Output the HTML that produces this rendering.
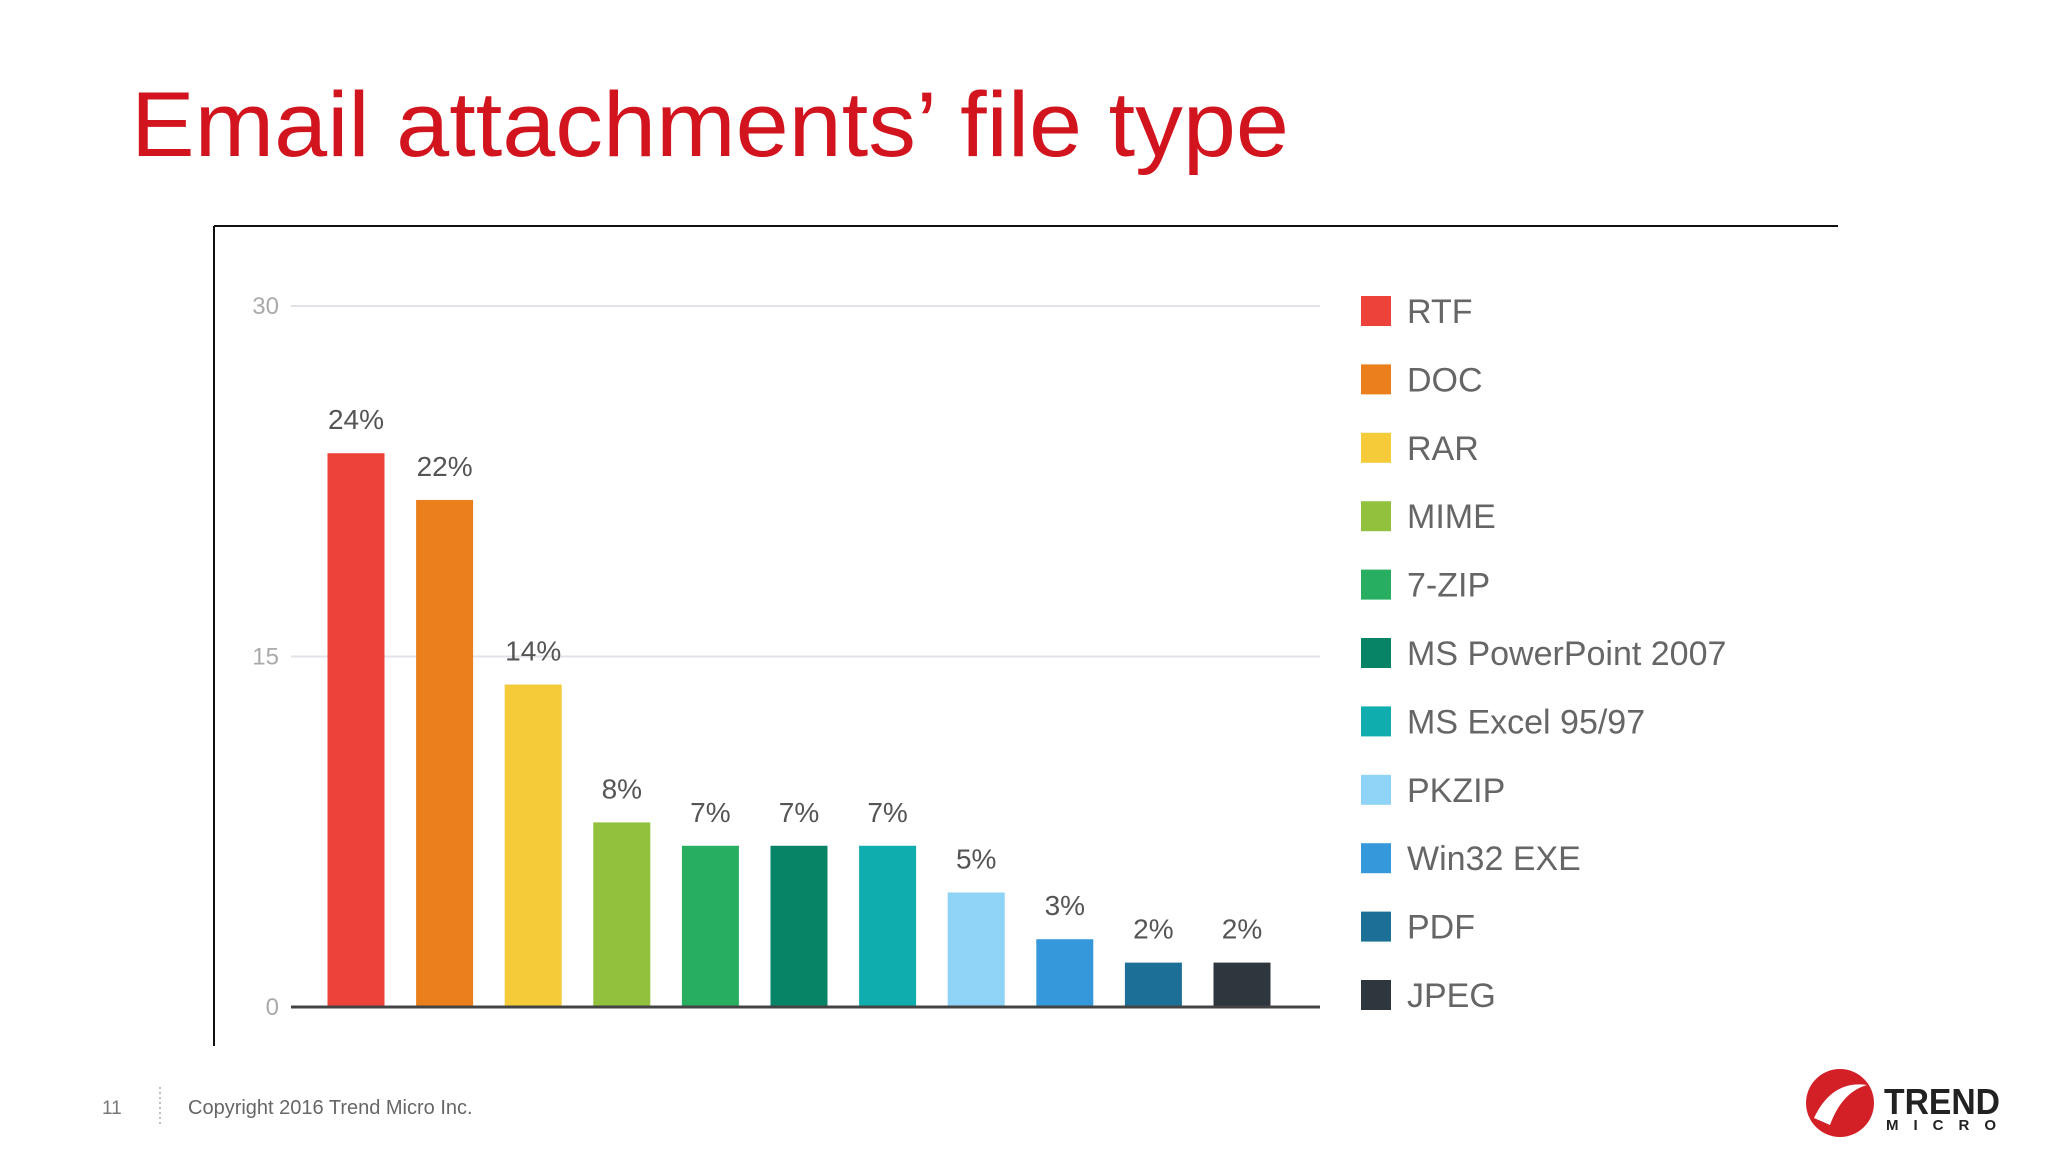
<!DOCTYPE html>
<html><head><meta charset="utf-8"><style>
html,body{margin:0;padding:0;background:#fff;}
svg{display:block;font-family:"Liberation Sans",sans-serif;}
</style></head><body>
<svg width="2048" height="1152" viewBox="0 0 2048 1152">
<text x="131" y="156" font-size="92" fill="#d2141e" textLength="1158" lengthAdjust="spacingAndGlyphs">Email attachments’ file type</text>
<line x1="214" y1="226" x2="1838" y2="226" stroke="#111" stroke-width="2"/>
<line x1="214" y1="226" x2="214" y2="1046" stroke="#111" stroke-width="2"/>
<g id="chart"></g>
<text x="102" y="1114" font-size="19" fill="#777">11</text>
<line x1="160" y1="1087" x2="160" y2="1127" stroke="#aaa" stroke-width="1.5" stroke-dasharray="2,3"/>
<text x="188" y="1114" font-size="20" fill="#666">Copyright 2016 Trend Micro Inc.</text>
<g transform="translate(-8,0)">
<circle cx="1848" cy="1103" r="34" fill="#d32027"/>
<path d="M1822 1118 Q1840 1080 1875 1085 Q1850 1092 1838 1125 Z" fill="#fff"/>
<text x="1892" y="1114" font-size="36" font-weight="bold" fill="#222" textLength="116" lengthAdjust="spacingAndGlyphs">TREND</text>
<text x="1894" y="1130" font-size="15" font-weight="bold" fill="#222" textLength="110" lengthAdjust="spacing">MICRO</text>
</g>
</svg>
<script>
const categories=["RTF","DOC","RAR","MIME","7-ZIP","MS PowerPoint 2007","MS Excel 95/97","PKZIP","Win32 EXE","PDF","JPEG"];
const values=[23.7,21.7,13.8,7.9,6.9,6.9,6.9,4.9,2.9,1.9,1.9];
const valueLabels=["24%","22%","14%","8%","7%","7%","7%","5%","3%","2%","2%"];
const colors=["#ec423a","#ea7f1b","#f6cb3a","#92c13e","#27ae60","#068465","#0fadad","#8fd3f6","#3598db","#1c6f96","#2e363e"];
const yTicks=[0,15,30];
const NS="http://www.w3.org/2000/svg";
const g=document.getElementById('chart');
const x0=291,x1=1320,yBase=1007,yTop=306,yMax=30;
const y=v=>yBase-(v/yMax)*(yBase-yTop);
const pitch=88.6,bw=57,firstC=356;
const xc=i=>firstC+i*pitch;
function mk(t,a){const e=document.createElementNS(NS,t);for(const k in a)e.setAttribute(k,a[k]);g.appendChild(e);return e;}
yTicks.forEach(t=>{
 if(t>0){const l=mk('line',{x1:x0,x2:x1,y1:y(t),y2:y(t),stroke:'#e2e2e8','stroke-width':2});
 
 }
 const tx=mk('text',{x:279,y:y(t)+8,'font-size':24,fill:'#aaa','text-anchor':'end'});
 tx.textContent=t;
 
 
});
values.forEach((v,i)=>{
 const r=mk('rect',{x:xc(i)-bw/2,y:y(v),width:bw,height:yBase-y(v),fill:colors[i]});
 
 
 const t=mk('text',{x:xc(i),y:y(v)-24,'font-size':28,fill:'#555','text-anchor':'middle'});
 t.textContent=valueLabels[i];
 
 
});
const base=mk('line',{x1:x0,x2:x1,y1:yBase,y2:yBase,stroke:'#444','stroke-width':3});


categories.forEach((c,i)=>{
 const cy=311+i*68.4;
 const s=mk('rect',{x:1361,y:cy-15,width:30,height:30,fill:colors[i]});
 
 
 const t=mk('text',{x:1407,y:cy+12,'font-size':34,fill:'#666'});
 t.textContent=c;
 
 
});
</script>
</body></html>
